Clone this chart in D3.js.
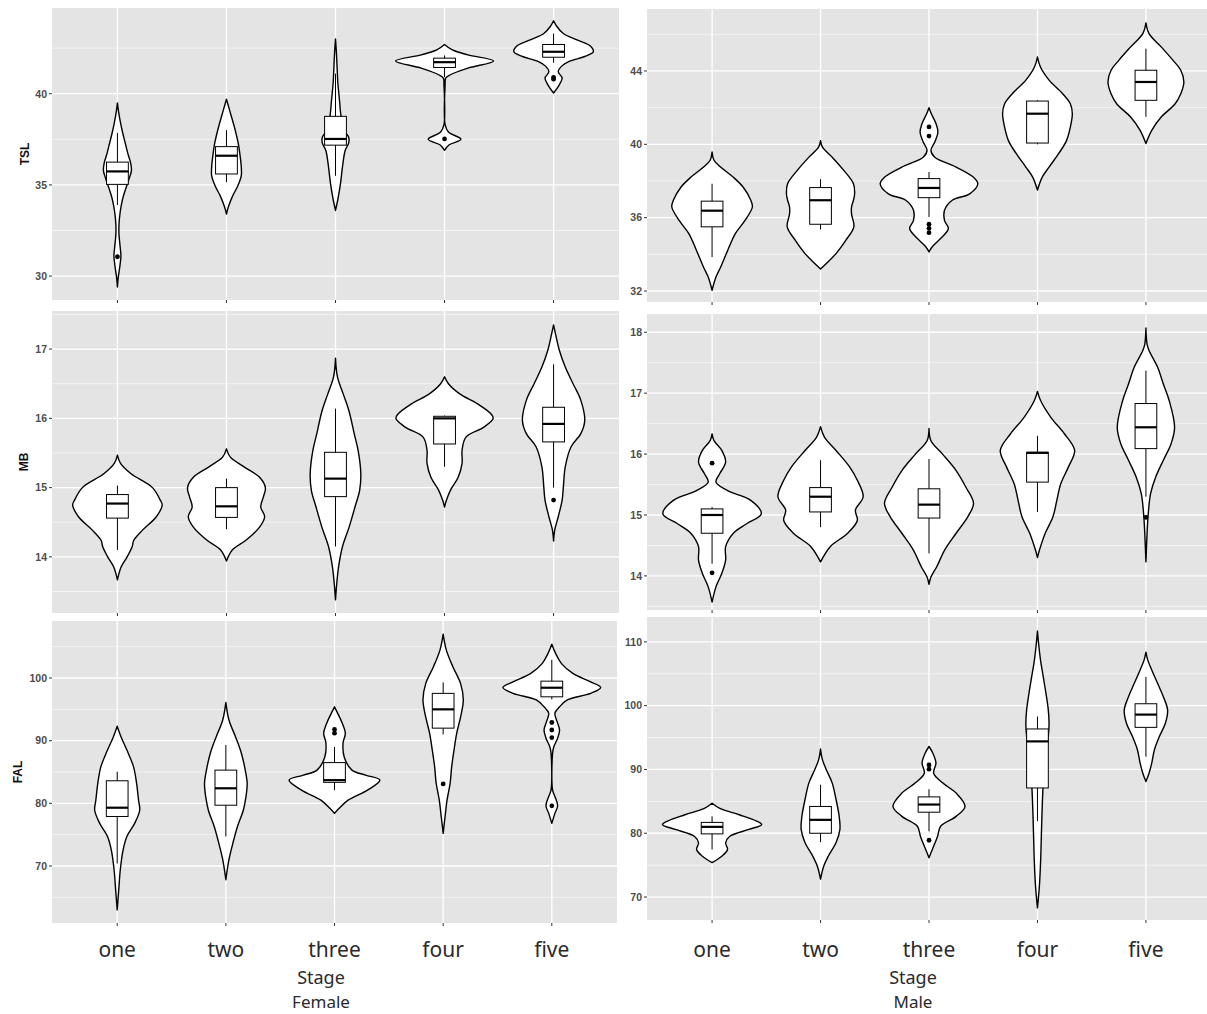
<!DOCTYPE html>
<html><head><meta charset="utf-8">
<script src="https://cdn.jsdelivr.net/npm/d3@7"></script>
<style>body{margin:0;background:#fff}svg{display:block}</style>
</head><body>
<svg id="c" width="1207" height="1014"></svg>
<script>
// ---------- DATA ----------
const stages = ["one", "two", "three", "four", "five"];
const sexes = ["Female", "Male"];
const axisTitle = "Stage";

// y tick labels (major) and minor gridline values per panel
const ticksTSL_F = [30, 35, 40];
const minorTSL_F = [32.5, 37.5, 42.5];
const ticksTSL_M = [32, 36, 40, 44];
const minorTSL_M = [34, 38, 42, 46];
const ticksMB_F = [14, 15, 16, 17];
const minorMB_F = [13.5, 14.5, 15.5, 16.5, 17.5];
const ticksMB_M = [14, 15, 16, 17, 18];
const minorMB_M = [13.5, 14.5, 15.5, 16.5, 17.5];
const ticksFAL_F = [70, 80, 90, 100];
const minorFAL_F = [65, 75, 85, 95, 105];
const ticksFAL_M = [70, 80, 90, 100, 110];
const minorFAL_M = [75, 85, 95, 105];

// violin profiles: [value, relative density half-width], one list per stage
const violinTSL_F = [
  [[39.5,0],[39.0,3],[38.4,8],[37.9,13],[37.3,20],[36.7,27],[36.2,34],[35.8,36],[35.4,31],[34.9,23],[34.2,13],[33.5,7],[32.8,4],[32.3,4],[31.6,7],[31.1,9],[30.5,6],[29.9,2],[29.4,0]],
  [[39.7,0],[39.1,8],[38.2,20],[37.3,30],[36.6,35],[36.0,38],[35.5,38],[34.9,28],[34.4,16],[33.8,5],[33.4,0]],
  [[43.0,0],[42.4,2],[41.5,4],[40.6,6],[39.7,10],[38.8,14],[38.0,22],[37.6,34],[37.3,34],[36.9,25],[36.0,18],[35.1,13],[34.2,6],[33.6,0]],
  [[42.7,0],[42.4,20],[42.13,60],[41.8,126],[41.4,60],[41.04,15],[40.86,3],[40.5,1.5],[38.3,1.5],[37.9,10],[37.5,42],[37.2,12],[36.9,0]],
  [[44.0,0],[43.7,8],[43.3,25],[42.95,60],[42.6,95],[42.3,102],[42.04,80],[41.77,40],[41.5,20],[41.2,12],[40.86,22],[40.5,15],[40.04,0]]
];
const violinTSL_M = [
  [[39.58,0],[39.13,5],[38.76,22],[38.2,55],[37.67,80],[36.95,100],[36.58,104],[35.85,85],[35.13,60],[34.2,40],[33.3,22],[32.76,10],[32.04,0]],
  [[40.2,0],[39.85,5],[39.3,30],[38.58,60],[37.85,85],[37.3,88],[36.95,85],[36.58,80],[36.2,80],[35.5,86],[34.76,65],[34.04,40],[33.5,15],[33.2,0]],
  [[42.0,0],[41.67,6],[41.13,18],[40.67,23],[40.13,15],[39.67,5],[39.3,15],[38.76,70],[38.2,115],[37.85,126],[37.3,105],[36.95,60],[36.4,40],[35.85,40],[35.4,50],[34.76,25],[34.4,8],[34.13,0]],
  [[44.76,0],[44.2,8],[43.5,30],[42.76,65],[42.2,85],[41.67,90],[40.95,85],[40.2,75],[39.5,55],[38.76,30],[38.2,12],[37.5,0]],
  [[46.62,0],[46.04,8],[45.3,40],[44.58,70],[44.04,90],[43.4,98],[42.76,90],[42.2,75],[41.5,40],[40.76,15],[40.04,0]]
];
const violinMB_F = [
  [[15.47,0],[15.35,8],[15.2,35],[15.0,90],[14.82,110],[14.75,115],[14.58,100],[14.39,65],[14.24,42],[14.15,38],[14.0,25],[13.86,10],[13.67,0]],
  [[15.56,0],[15.44,10],[15.3,45],[15.15,85],[15.0,100],[14.87,95],[14.72,88],[14.58,98],[14.43,85],[14.24,50],[14.1,15],[13.94,0]],
  [[16.87,0],[16.6,5],[16.35,20],[16.1,35],[15.78,48],[15.54,58],[15.2,65],[14.96,62],[14.72,50],[14.43,35],[14.15,18],[13.86,8],[13.6,3],[13.38,0]],
  [[16.6,0],[16.5,10],[16.35,40],[16.21,85],[16.06,120],[16.0,125],[15.87,100],[15.73,55],[15.54,45],[15.35,45],[15.15,35],[14.96,15],[14.82,5],[14.72,0]],
  [[17.35,0],[17.22,5],[16.98,15],[16.74,30],[16.5,50],[16.26,70],[15.97,80],[15.78,70],[15.59,45],[15.3,30],[15.0,25],[14.82,22],[14.58,12],[14.39,3],[14.23,0]]
];
const violinMB_M = [
  [[16.33,0],[16.22,5],[16.06,25],[15.87,35],[15.68,20],[15.54,10],[15.4,40],[15.24,100],[15.02,127],[14.86,90],[14.7,55],[14.48,35],[14.26,35],[14.04,25],[13.82,10],[13.57,0]],
  [[16.45,0],[16.28,10],[16.06,40],[15.79,75],[15.57,95],[15.3,110],[15.08,90],[14.91,95],[14.7,70],[14.48,25],[14.23,0]],
  [[16.42,0],[16.22,5],[16.0,35],[15.73,70],[15.46,95],[15.19,115],[14.97,100],[14.7,70],[14.42,40],[14.15,20],[13.98,5],[13.86,0]],
  [[17.03,0],[16.88,8],[16.6,35],[16.33,70],[16.06,96],[15.79,80],[15.51,60],[15.24,50],[14.97,40],[14.7,20],[14.42,5],[14.3,0]],
  [[18.07,0],[17.8,3],[17.7,8],[17.43,30],[17.15,45],[16.88,60],[16.44,74],[16.17,65],[15.9,45],[15.62,25],[15.35,12],[15.02,6],[14.7,3],[14.23,0]]
];
const violinFAL_F = [
  [[92.3,0],[90.6,10],[88.5,25],[85.85,42],[83.2,50],[80.5,55],[78.9,58],[76.8,45],[74.7,25],[72.5,15],[69.4,8],[66.2,4],[63.0,0]],
  [[96.1,0],[93.3,8],[90.6,25],[88.0,40],[85.3,50],[83.2,55],[81.1,52],[78.9,45],[76.3,30],[73.6,18],[71.0,8],[67.8,0]],
  [[95.4,0],[94.4,8],[92.8,20],[91.2,28],[89.6,22],[87.4,25],[85.3,45],[84.5,80],[83.7,117],[82.1,85],[80.5,35],[79.2,12],[78.4,0]],
  [[107.0,0],[104.5,8],[101.8,25],[99.1,45],[96.5,52],[93.8,45],[91.2,35],[88.5,28],[85.85,22],[83.2,18],[80.5,10],[77.9,5],[75.2,0]],
  [[105.4,0],[103.9,10],[102.3,25],[100.7,55],[99.4,100],[98.5,126],[97.55,100],[96.5,40],[95.4,20],[94.4,8],[92.8,15],[91.7,20],[90.4,15],[89.0,5],[88.0,2],[82.1,2],[81.1,8],[79.6,15],[78.4,8],[76.8,0]]
];
const violinFAL_M = [
  [[84.7,0],[83.9,20],[82.9,70],[81.9,115],[81.35,128],[80.6,95],[79.5,45],[78.5,35],[77.45,40],[76.4,25],[75.4,0]],
  [[93.2,0],[91.5,5],[89.95,15],[87.9,30],[85.3,40],[82.7,48],[80.6,50],[78.5,40],[76.4,20],[74.8,8],[72.8,0]],
  [[93.6,0],[92.55,10],[91.0,18],[89.4,12],[87.9,35],[86.3,70],[84.2,93],[82.65,70],[81.1,30],[79.5,22],[77.97,12],[76.15,0]],
  [[111.7,0],[109.7,3],[107.1,8],[104.5,15],[101.9,22],[99.3,28],[97.2,30],[95.2,28],[91.5,20],[87.9,15],[83.7,12],[79.5,10],[75.4,8],[71.7,5],[68.3,0]],
  [[108.4,0],[107.1,5],[105.6,15],[103.5,30],[101.4,45],[99.3,56],[97.2,50],[95.2,35],[93.1,22],[91.0,15],[89.4,8],[88.1,0]]
];

// boxplot stats per stage: [lower whisker, Q1, median, Q3, upper whisker]
const boxTSL_F = [[33.9,35.03,35.74,36.25,37.85],[35.15,35.6,36.6,37.1,38.0],[35.5,37.18,37.52,38.76,41.1],[40.9,41.44,41.73,41.95,42.1],[41.7,42.0,42.3,42.7,43.3]];
const boxTSL_M = [[33.85,35.5,36.38,36.9,37.85],[35.35,35.64,36.95,37.64,38.1],[36.04,37.09,37.62,38.13,38.49],[40.0,40.07,41.67,42.36,42.4],[41.5,42.4,43.4,44.04,45.22]];
const boxMB_F = [[14.1,14.56,14.77,14.9,15.03],[14.4,14.57,14.73,15.0,15.13],[14.15,14.87,15.13,15.51,16.14],[15.3,15.63,16.0,16.03,16.04],[15.0,15.66,15.92,16.16,16.78]];
const boxMB_M = [[14.2,14.7,15.0,15.1,15.13],[14.8,15.05,15.3,15.45,15.9],[14.37,14.95,15.17,15.43,15.92],[15.05,15.54,16.02,16.03,16.3],[15.3,16.09,16.44,16.83,17.37]];
const boxFAL_F = [[70.4,77.9,79.3,83.6,85.05],[74.7,79.7,82.4,85.3,89.3],[82.1,83.35,83.7,86.5,89.0],[91.0,92.0,95.0,97.55,99.3],[96.6,97.0,98.45,99.5,102.9]];
const boxFAL_M = [[77.45,79.9,81.0,81.7,82.65],[78.6,80.0,82.1,84.2,87.6],[80.3,83.3,84.5,85.7,86.9],[81.9,87.1,94.4,96.35,98.3],[92.0,96.6,98.6,100.3,104.5]];

// outliers per stage
const outTSL_F = [[31.06],[],[],[37.52],[40.8,40.9]];
const outTSL_M = [[],[],[40.95,40.45,35.64,35.42,35.18],[],[]];
const outMB_F = [[],[],[],[],[14.82]];
const outMB_M = [[15.85,14.05],[],[],[],[14.96]];
const outFAL_F = [[],[],[91.8,91.2],[83.1],[92.9,91.7,90.5,79.6]];
const outFAL_M = [[],[],[90.7,90.05,78.9],[],[]];

// ---------- LAYOUT ----------
const panels = [
  {title:"TSL", tx:25, x0:52, x1:619, y0:8, y1:300, dom:[28.69,44.7], ticks:ticksTSL_F, minor:minorTSL_F, v:violinTSL_F, b:boxTSL_F, o:outTSL_F},
  {title:null, x0:647, x1:1211, y0:9, y1:302, dom:[31.4,47.38], ticks:ticksTSL_M, minor:minorTSL_M, v:violinTSL_M, b:boxTSL_M, o:outTSL_M},
  {title:"MB", tx:24, x0:52, x1:619, y0:311, y1:613, dom:[13.19,17.55], ticks:ticksMB_F, minor:minorMB_F, v:violinMB_F, b:boxMB_F, o:outMB_F},
  {title:null, x0:647, x1:1211, y0:314, y1:610, dom:[13.44,18.3], ticks:ticksMB_M, minor:minorMB_M, v:violinMB_M, b:boxMB_M, o:outMB_M},
  {title:"FAL", tx:18, x0:52, x1:617, y0:621, y1:923, dom:[60.9,109.1], ticks:ticksFAL_F, minor:minorFAL_F, v:violinFAL_F, b:boxFAL_F, o:outFAL_F, bottom:0},
  {title:null, x0:647, x1:1211, y0:617, y1:920, dom:[66.4,113.9], ticks:ticksFAL_M, minor:minorFAL_M, v:violinFAL_M, b:boxFAL_M, o:outFAL_M, bottom:1}
];

const svg = d3.select("#c");
const BG = "#E4E4E4";

panels.forEach(p => {
  const g = svg.append("g");
  const x = d3.scalePoint().domain(stages).range([p.x0, p.x1]).padding(0.6);
  const y = d3.scaleLinear().domain(p.dom).range([p.y1, p.y0]);
  const step = x.step();
  const w = d3.scaleLinear().domain([0, 280]).range([0, step]);
  const clipId = "clip" + p.x0 + "_" + p.y0;
  svg.append("clipPath").attr("id", clipId).append("rect")
    .attr("x", p.x0).attr("y", p.y0).attr("width", p.x1 - p.x0).attr("height", p.y1 - p.y0);

  g.append("rect").attr("x", p.x0).attr("y", p.y0).attr("width", p.x1 - p.x0).attr("height", p.y1 - p.y0).attr("fill", BG);

  const gc = g.append("g").attr("clip-path", `url(#${clipId})`);
  gc.selectAll(".minor").data(p.minor.filter(v => v > p.dom[0] && v < p.dom[1])).join("line")
    .attr("x1", p.x0).attr("x2", p.x1).attr("y1", d => y(d)).attr("y2", d => y(d))
    .attr("stroke", "#fff").attr("stroke-width", 0.7).attr("opacity", 0.85);
  gc.selectAll(".major").data(p.ticks).join("line")
    .attr("x1", p.x0).attr("x2", p.x1).attr("y1", d => y(d)).attr("y2", d => y(d))
    .attr("stroke", "#fff").attr("stroke-width", 1.3);
  gc.selectAll(".vmajor").data(stages).join("line")
    .attr("x1", d => x(d)).attr("x2", d => x(d)).attr("y1", p.y0).attr("y2", p.y1)
    .attr("stroke", "#fff").attr("stroke-width", 1.3);

  // violins
  const area = d3.area().curve(d3.curveCatmullRom.alpha(0.5));
  stages.forEach((s, i) => {
    const cx = x(s);
    const pts = p.v[i].slice().sort((a, b) => b[0] - a[0]);
    area.y(d => y(d[0])).x0(d => cx - w(d[1])).x1(d => cx + w(d[1]));
    gc.append("path").attr("d", area(pts))
      .attr("fill", "#fff").attr("stroke", "#000").attr("stroke-width", 1.4).attr("stroke-linejoin", "round");
  });

  // boxes
  stages.forEach((s, i) => {
    const cx = x(s);
    const [lo, q1, med, q3, hi] = p.b[i];
    const bw = 0.2 * step;
    gc.append("line").attr("x1", cx).attr("x2", cx).attr("y1", y(hi)).attr("y2", y(q3)).attr("stroke", "#000").attr("stroke-width", 1);
    gc.append("line").attr("x1", cx).attr("x2", cx).attr("y1", y(q1)).attr("y2", y(lo)).attr("stroke", "#000").attr("stroke-width", 1);
    gc.append("rect").attr("x", cx - bw / 2).attr("width", bw).attr("y", y(q3)).attr("height", Math.max(0.5, y(q1) - y(q3)))
      .attr("fill", "#fff").attr("stroke", "#000").attr("stroke-width", 1);
    gc.append("line").attr("x1", cx - bw / 2).attr("x2", cx + bw / 2).attr("y1", y(med)).attr("y2", y(med)).attr("stroke", "#000").attr("stroke-width", 2.2);
    gc.selectAll(null).data(p.o[i]).join("circle")
      .attr("cx", cx).attr("cy", d => y(d)).attr("r", 2.4).attr("fill", "#000");
  });

  // axis ticks
  g.selectAll(".yt").data(p.ticks).join("line")
    .attr("x1", p.x0 - 3).attr("x2", p.x0).attr("y1", d => y(d)).attr("y2", d => y(d)).attr("stroke", "#333").attr("stroke-width", 1);
  g.selectAll(".ytl").data(p.ticks).join("text")
    .attr("x", p.x0 - 5).attr("y", d => y(d)).attr("dy", "0.36em").attr("text-anchor", "end")
    .attr("font-family", "Liberation Sans, Arial, sans-serif").attr("font-size", 10.5).attr("font-weight", "bold").attr("fill", "#4D4D4D")
    .text(d => d);
  g.selectAll(".xt").data(stages).join("line")
    .attr("x1", d => x(d)).attr("x2", d => x(d)).attr("y1", p.y1).attr("y2", p.y1 + 3).attr("stroke", "#333").attr("stroke-width", 1);

  if (p.title) {
    g.append("text").attr("transform", `translate(${p.tx},${(p.y0 + p.y1) / 2}) rotate(-90)`)
      .attr("text-anchor", "middle").attr("dy", "0.36em")
      .attr("font-family", "Liberation Sans, Arial, sans-serif").attr("font-size", 12).attr("font-weight", "bold").attr("fill", "#111")
      .text(p.title);
  }

  if (p.bottom !== undefined) {
    g.selectAll(".xl").data(stages).join("text")
      .attr("x", d => x(d)).attr("y", 957).attr("text-anchor", "middle")
      .attr("font-family", "Noto Sans, sans-serif").attr("font-size", 21).attr("fill", "#2b2b2b")
      .text(d => d);
    const cxT = p.bottom === 0 ? 321 : 913;
    g.append("text").attr("x", cxT).attr("y", 984).attr("text-anchor", "middle")
      .attr("font-family", "Noto Sans, sans-serif").attr("font-size", 18).attr("fill", "#2b2b2b").text(axisTitle);
    g.append("text").attr("x", cxT).attr("y", 1008).attr("text-anchor", "middle")
      .attr("font-family", "Noto Sans, sans-serif").attr("font-size", 17).attr("fill", "#2b2b2b").text(sexes[p.bottom]);
  }
});
</script>
</body></html>
